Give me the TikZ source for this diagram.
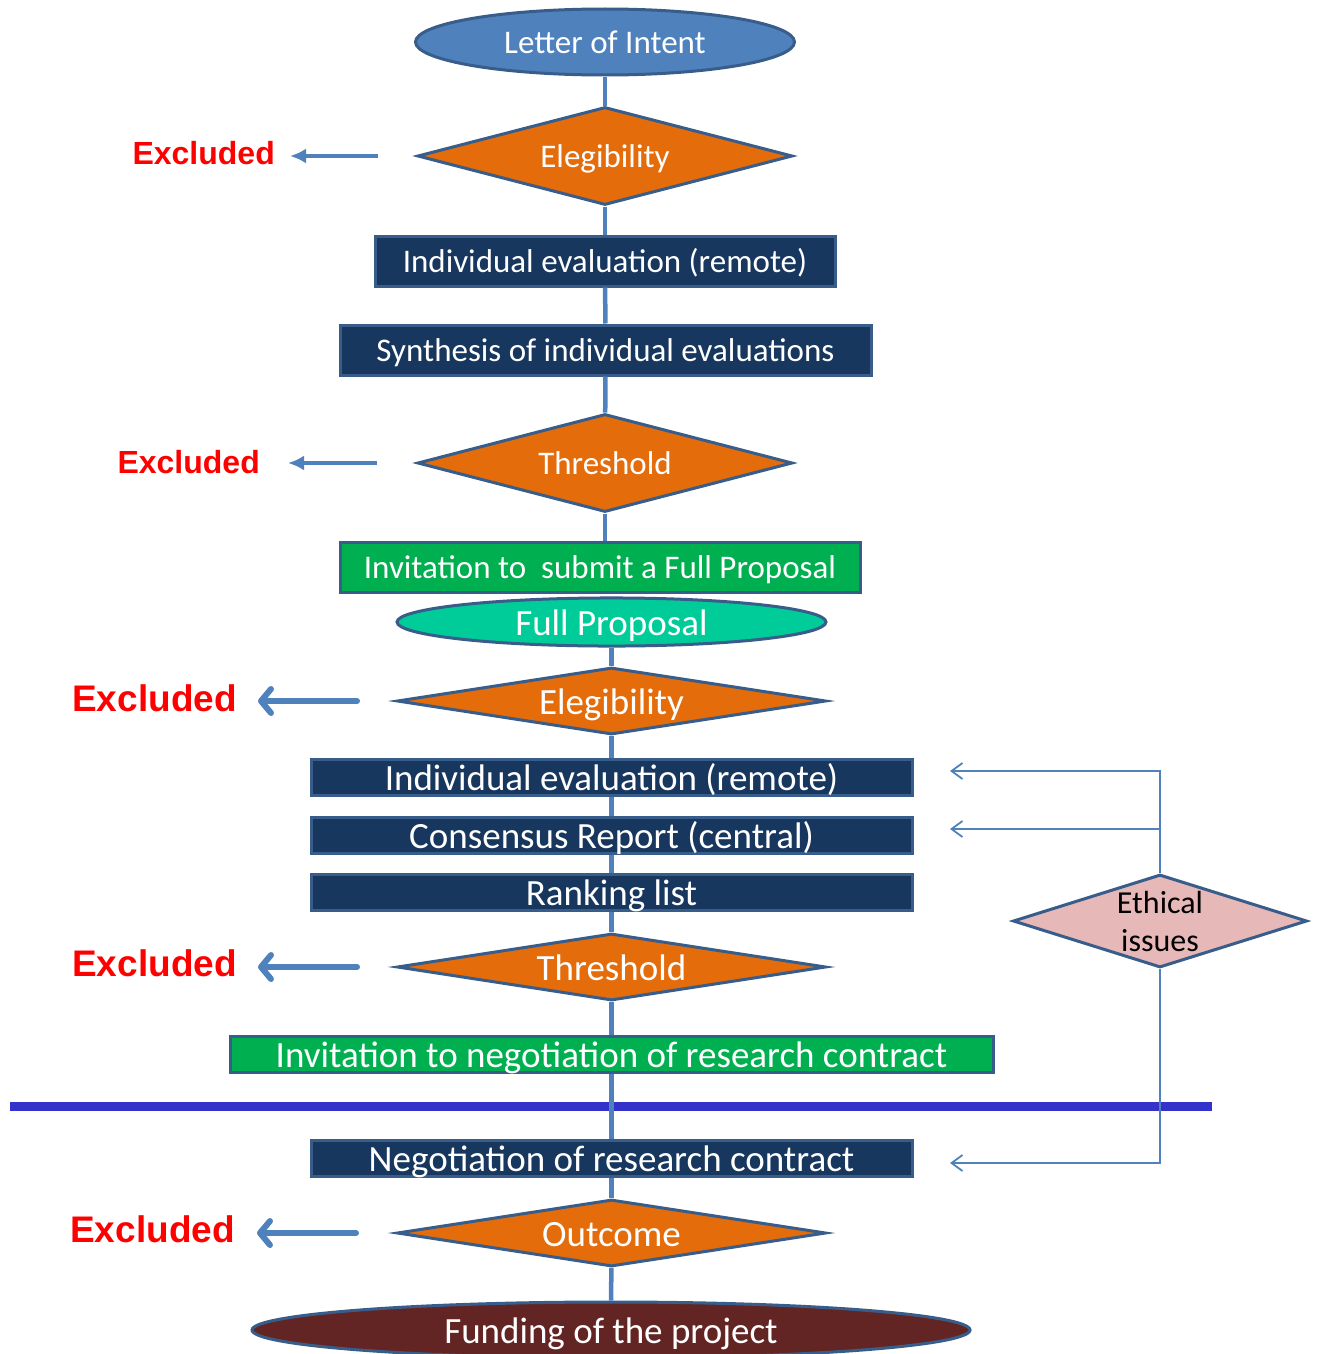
\documentclass[tikz,border=0pt]{standalone}
\usepackage{fontspec}
\setmainfont{Carlito}
\newfontfamily\arialfont{Liberation Sans}
\usetikzlibrary{shapes.geometric}
\usetikzlibrary{arrows.meta}
\definecolor{lofblue}{RGB}{79,129,189}
\definecolor{edgeblue}{RGB}{56,93,138}
\definecolor{decorange}{RGB}{228,108,10}
\definecolor{boxnavy}{RGB}{23,55,94}
\definecolor{invgreen}{RGB}{0,176,80}
\definecolor{fpteal}{RGB}{0,204,153}
\definecolor{fundred}{RGB}{99,37,35}
\definecolor{ethpink}{RGB}{230,185,184}
\definecolor{divblue}{RGB}{51,51,204}

\begin{document}
\begin{tikzpicture}[
  smalltext/.style={font=\fontsize{33}{38}\selectfont, text height=26pt, text depth=4pt},
  bigtext/.style={font=\fontsize{37}{42}\selectfont, text height=30pt, text depth=4pt},
  startend/.style={ellipse, draw=edgeblue, line width=3pt, text=white, inner sep=0pt},
  decision/.style={diamond, draw=edgeblue, line width=3pt, fill=decorange, text=white, inner sep=1pt},
  task/.style={rectangle, draw=edgeblue, line width=3pt, fill=boxnavy, text=white, inner sep=0pt},
  invite/.style={rectangle, draw=edgeblue, line width=3pt, fill=invgreen, text=white, inner sep=0pt},
  excl/.style={anchor=east, inner sep=0pt, text=red},
  conn/.style={draw=lofblue, line width=4.5pt},
  exarrow/.style={draw=lofblue, line width=4pt, -{Latex[length=16pt,width=15pt]}},
  exarrowbig/.style={draw=lofblue, line width=6pt, line cap=round, -{Straight Barb[round,length=10pt,width=24pt]}},
  ethline/.style={draw=lofblue, line width=1.8pt, -{Straight Barb[length=11pt,width=16pt]}},
  divider/.style={draw=divblue, line width=9pt}
]
\useasboundingbox (0pt,0pt) rectangle (1319pt,-1354pt);
% letter of intent stage
\node (loi) [startend, smalltext, fill=lofblue, minimum width=379pt, minimum height=66pt] at (605pt, -42pt) {Letter of Intent};
\node (elig1) [decision, smalltext, aspect=3.8, minimum width=375pt, minimum height=98pt] at (605pt, -156pt) {Elegibility};
\node (eval1) [task, smalltext, minimum width=460pt, minimum height=50pt] at (605pt, -261pt) {Individual evaluation (remote)};
\node (synth) [task, smalltext, minimum width=531pt, minimum height=50pt] at (605.5pt, -350pt) {Synthesis of individual evaluations};
\node (thr1) [decision, smalltext, aspect=3.8, minimum width=375pt, minimum height=98pt] at (605pt, -463pt) {Threshold};
\node (inv1) [invite, smalltext, minimum width=520pt, minimum height=50pt] at (600pt, -567pt) {Invitation to\ \ submit a Full Proposal};
% full proposal stage
\node (fp) [startend, bigtext, fill=fpteal, minimum width=429pt, minimum height=48pt] at (611.5pt, -622pt) {Full Proposal};
\node (elig2) [decision, bigtext, aspect=6.4, minimum width=429pt, minimum height=67pt] at (611.5pt, -701pt) {Elegibility};
\node (eval2) [task, bigtext, minimum width=601pt, minimum height=36pt] at (611.5pt, -777pt) {Individual evaluation (remote)};
\node (cons) [task, bigtext, minimum width=601pt, minimum height=36pt] at (611.5pt, -835pt) {Consensus Report (central)};
\node (rank) [task, bigtext, minimum width=601pt, minimum height=36pt] at (611.5pt, -892pt) {Ranking list};
\node (thr2) [decision, bigtext, aspect=6.4, minimum width=429pt, minimum height=67pt] at (611.5pt, -967pt) {Threshold};
\node (inv2) [invite, bigtext, minimum width=763pt, minimum height=36pt] at (611.5pt, -1054pt) {Invitation to negotiation of research contract};
\node (nego) [task, bigtext, minimum width=601pt, minimum height=36pt] at (611.5pt, -1158pt) {Negotiation of research contract};
\node (outc) [decision, bigtext, aspect=6.4, minimum width=429pt, minimum height=67pt] at (611.5pt, -1233pt) {Outcome};
\node (fund) [startend, bigtext, fill=fundred, minimum width=718pt, minimum height=56pt] at (611pt, -1330pt) {Funding of the project};
% ethics
\node (ethic) [diamond, draw=edgeblue, line width=3pt, fill=ethpink, minimum width=294pt, minimum height=93pt, inner sep=0pt,
  label={[align=center, inner sep=0pt, font=\fontsize{32}{38}\selectfont]center:Ethical\\issues}] at (1160pt, -921pt) {};
% excluded labels
\node (x1) [excl, font=\arialfont\bfseries\fontsize{32}{36}\selectfont] at (275pt, -153pt) {Excluded};
\node (x2) [excl, font=\arialfont\bfseries\fontsize{32}{36}\selectfont] at (260pt, -462pt) {Excluded};
\node (x3) [excl, font=\arialfont\bfseries\fontsize{37}{42}\selectfont] at (237pt, -698pt) {Excluded};
\node (x4) [excl, font=\arialfont\bfseries\fontsize{37}{42}\selectfont] at (237pt, -963pt) {Excluded};
\node (x5) [excl, font=\arialfont\bfseries\fontsize{37}{42}\selectfont] at (235pt, -1229pt) {Excluded};
\coordinate (s1) at (378pt, -156pt);
\coordinate (s2) at (377pt, -463pt);
\coordinate (s3) at (357pt, -701pt);
\coordinate (s4) at (357pt, -967pt);
\coordinate (s5) at (356pt, -1233pt);
\coordinate (t1) at (950pt, -771pt);
\coordinate (t2) at (950pt, -829pt);
\coordinate (t3) at (950pt, -1163pt);
\coordinate (dl) at (10pt, -1106pt);
\coordinate (dr) at (1212pt, -1106pt);
\draw [divider] (dl) -- (dr);
% main flow
\draw [conn] (loi) -- (elig1);
\draw [conn] (elig1) -- (eval1);
\draw [conn] (eval1) -- (synth);
\draw [conn] (synth) -- (thr1);
\draw [conn] (thr1.south) -- (thr1.south |- inv1.north);
\draw [conn] (fp) -- (elig2);
\draw [conn] (elig2) -- (eval2);
\draw [conn] (eval2) -- (cons);
\draw [conn] (cons) -- (rank);
\draw [conn] (rank) -- (thr2);
\draw [conn] (thr2) -- (inv2);
\draw [conn] (inv2) -- (nego);
\draw [conn] (nego) -- (outc);
\draw [conn] (outc) -- (fund);
% exclusions
\draw [exarrow, shorten >=15pt] (s1) -- (s1 -| x1.east);
\draw [exarrow, shorten >=28pt] (s2) -- (s2 -| x2.east);
\draw [exarrowbig, shorten >=21pt] (s3) -- (s3 -| x3.east);
\draw [exarrowbig, shorten >=21pt] (s4) -- (s4 -| x4.east);
\draw [exarrowbig, shorten >=22pt] (s5) -- (s5 -| x5.east);
% ethics feedback
\draw [ethline] (ethic.north) |- (t1);
\draw [ethline] (ethic.north |- t2) -- (t2);
\draw [ethline] (ethic.south) |- (t3);
\end{tikzpicture}
\end{document}
